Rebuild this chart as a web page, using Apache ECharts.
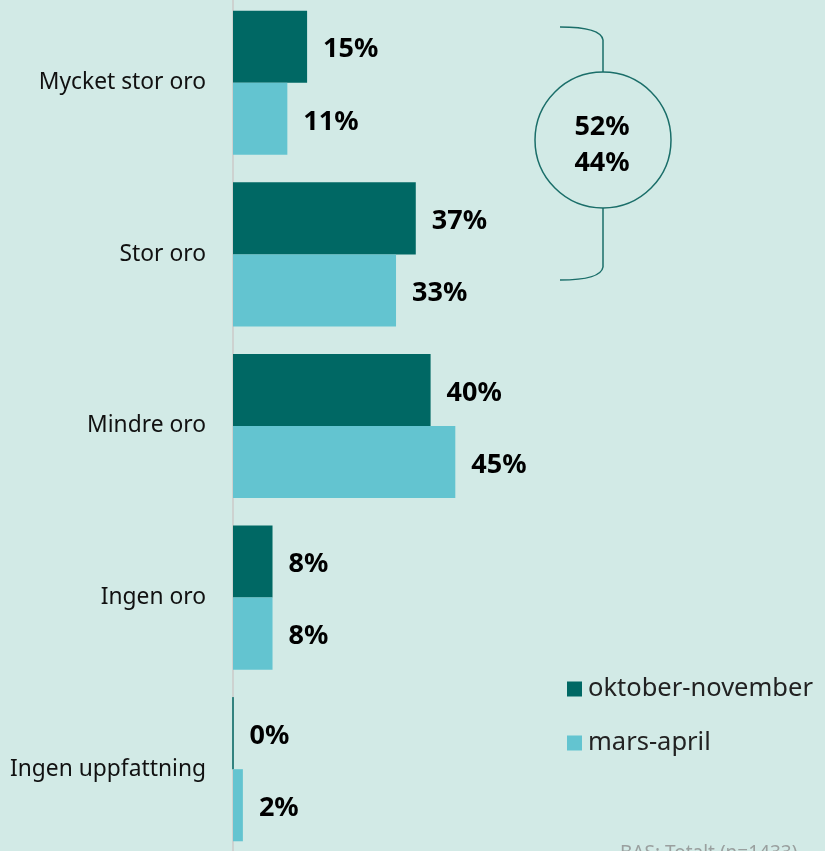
<!DOCTYPE html>
<html>
<head>
<meta charset="utf-8">
<script src="https://cdn.jsdelivr.net/npm/echarts@6/dist/echarts.min.js"></script>
<style>
  html, body { margin: 0; padding: 0; background: #d2eae6; overflow: hidden; }
  #oro_chart { width: 825px; height: 858px; margin-top: -3px; }
</style>
</head>
<body>
<div id="oro_chart"></div>
<script>
  var categories = ["Mycket stor oro", "Stor oro", "Mindre oro", "Ingen oro", "Ingen uppfattning"];
  var okt_nov = [15, 37, 40, 8, 0];
  var mars_apr = [11, 33, 45, 8, 2];

  var darkColor = "#006864";
  var lightColor = "#63c4d0";
  var bracketColor = "#1a6e69";
  var fontFamily = "'Noto Sans', 'Open Sans', sans-serif";

  // div:en är förskjuten 3px uppåt
  var dy = 3;

  var myChart = echarts.init(document.getElementById("oro_chart"));

  var labelStyle = {
    show: true,
    position: "right",
    distance: 16,
    offset: [0, 3],
    formatter: "{c}%",
    color: "#000",
    fontWeight: "bold",
    fontSize: 27,
    fontFamily: fontFamily,
  };

  var lineStyle = { fill: null, stroke: bracketColor, lineWidth: 1.5 };

  var option = {
    backgroundColor: "#d2eae6",
    animation: false,
    legend: {
      orient: "vertical",
      left: 562,
      top: 671 + dy,
      itemWidth: 15,
      itemHeight: 15,
      itemGap: 28,
      icon: "rect",
      textStyle: {
        color: "#222",
        fontSize: 25.5,
        fontFamily: fontFamily,
        padding: [0, 0, 0, 1],
      },
      data: ["oktober-november", "mars-april"],
    },
    grid: {
      left: 233,
      width: 494,
      top: 0,
      height: 858,
      containLabel: false,
    },
    xAxis: {
      type: "value",
      min: 0,
      max: 100,
      show: false,
    },
    yAxis: {
      type: "category",
      inverse: true,
      data: categories,
      axisLine: {
        show: true,
        lineStyle: { color: "#cdd2d0", width: 2 },
      },
      axisTick: { show: false },
      axisLabel: {
        margin: 27,
        color: "#111",
        fontSize: 22.8,
        fontFamily: fontFamily,
      },
    },
    series: [
      {
        name: "oktober-november",
        type: "bar",
        barGap: "0%",
        barCategoryGap: "16%",
        data: okt_nov.map(function (v) {
          // 0-stapeln syns som en tunn linje i originalet
          if (v === 0) {
            return { value: v, itemStyle: { borderColor: darkColor, borderWidth: 1 } };
          }
          return v;
        }),
        itemStyle: { color: darkColor },
        label: labelStyle,
      },
      {
        name: "mars-april",
        type: "bar",
        barGap: "0%",
        barCategoryGap: "16%",
        data: mars_apr,
        itemStyle: { color: lightColor },
        label: labelStyle,
      },
    ],
    graphic: [
      {
        type: "bezierCurve",
        shape: { x1: 560, y1: 27 + dy, cpx1: 601, cpy1: 27 + dy, x2: 603, y2: 40 + dy },
        style: lineStyle,
      },
      {
        type: "line",
        shape: { x1: 603, y1: 40 + dy, x2: 603, y2: 72 + dy },
        style: lineStyle,
      },
      {
        type: "line",
        shape: { x1: 603, y1: 208 + dy, x2: 603, y2: 267 + dy },
        style: lineStyle,
      },
      {
        type: "bezierCurve",
        shape: { x1: 603, y1: 267 + dy, cpx1: 601, cpy1: 280 + dy, x2: 560, y2: 280 + dy },
        style: lineStyle,
      },
      {
        type: "circle",
        shape: { cx: 603, cy: 140 + dy, r: 68 },
        style: lineStyle,
      },
      {
        type: "text",
        x: 602,
        y: 127 + dy,
        style: {
          text: "52%",
          align: "center",
          verticalAlign: "middle",
          fill: "#000",
          font: "bold 27px " + fontFamily,
        },
      },
      {
        type: "text",
        x: 602,
        y: 163 + dy,
        style: {
          text: "44%",
          align: "center",
          verticalAlign: "middle",
          fill: "#000",
          font: "bold 27px " + fontFamily,
        },
      },
      {
        type: "text",
        x: 620,
        y: 844 + dy,
        style: {
          text: "BAS: Totalt (n=1433)",
          fill: "#9aa09f",
          font: "19px " + fontFamily,
        },
      },
    ],
  };

  myChart.setOption(option);
  window.onresize = function () {
    myChart.resize();
  };
</script>
</body>
</html>
